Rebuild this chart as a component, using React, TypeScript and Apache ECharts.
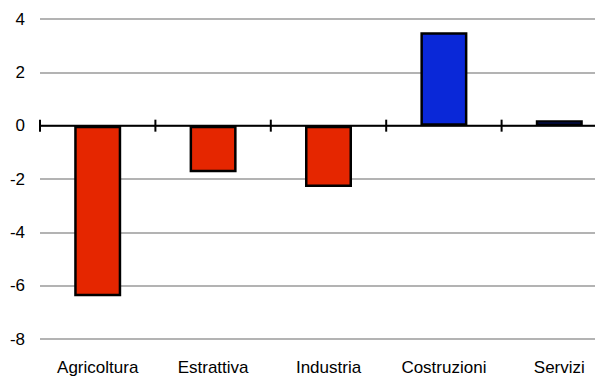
import React, { useEffect, useRef } from "react";
import * as echarts from "echarts";

const categories = ["Agricoltura", "Estrattiva", "Industria", "Costruzioni", "Servizi"];
const values = [-6.4, -1.75, -2.3, 3.5, 0.2];
const yTicks = [4, 2, 0, -2, -4, -6, -8];
// category boundaries where the zero line carries a tick mark
const boundaries = [0, 1, 2, 3, 4, 5];

const RED = "#e52600";
const BLUE = "#0a28d8";
const FONT = "'Liberation Sans', Arial, sans-serif";

export default function App() {
  const ref = useRef<HTMLDivElement>(null);
  useEffect(() => {
    if (!ref.current) return;
    const chart = echarts.init(ref.current, undefined, { renderer: "svg" });
    chart.setOption({
      animation: false,
      grid: {
        left: 40,
        width: 577,
        top: 19,
        bottom: 39,
        containLabel: false,
        outerBoundsMode: "none",
      },
      xAxis: [
        {
          type: "category",
          data: categories,
          position: "bottom",
          axisLine: { show: false, onZero: false },
          axisTick: { show: false },
          axisLabel: { color: "#000", fontFamily: FONT, fontSize: 17, margin: 20, interval: 0 },
        },
        {
          type: "value",
          min: 0,
          max: 5,
          show: false,
        },
      ],
      yAxis: {
        type: "value",
        min: -8,
        max: 4,
        interval: 2,
        axisLine: { show: false },
        axisTick: { show: false },
        splitLine: { lineStyle: { color: "#9a9a9a", width: 1.5 } },
        axisLabel: {
          color: "#000",
          fontFamily: FONT,
          fontSize: 17,
          margin: 15,
          formatter: (v: number) => (yTicks.includes(v) ? String(v) : ""),
        },
      },
      series: [
        {
          type: "bar",
          xAxisIndex: 0,
          barWidth: 47,
          z: 2,
          data: values.map((v) => ({
            value: v,
            itemStyle: { color: v < 0 ? RED : BLUE, borderColor: "#000", borderWidth: 2.5 },
          })),
        },
        {
          type: "custom",
          xAxisIndex: 1,
          z: 5,
          silent: true,
          clip: false,
          data: boundaries.map((b) => [b, 0]),
          renderItem: (params: any, api: any) => {
            const p = api.coord([api.value(0), 0]);
            const children: any[] = [
              {
                type: "line",
                shape: { x1: p[0], y1: p[1] - 6, x2: p[0], y2: p[1] + 6 },
                style: { stroke: "#000", lineWidth: 2 },
              },
            ];
            if (params.dataIndex === 0) {
              const end = api.coord([5, 0]);
              children.push({
                type: "line",
                shape: { x1: p[0], y1: p[1], x2: end[0], y2: end[1] },
                style: { stroke: "#000", lineWidth: 2 },
              });
            }
            return { type: "group", children };
          },
        },
      ],
    });
    return () => chart.dispose();
  }, []);
  return (
    <div
      ref={ref}
      style={{ position: "fixed", left: 0, top: 0, width: 595, height: 378, background: "#fff" }}
    />
  );
}
